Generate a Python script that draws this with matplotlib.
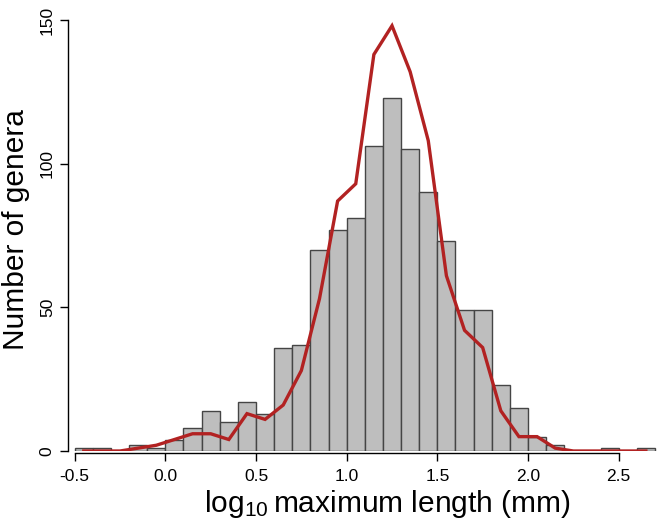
import numpy as np
import matplotlib
matplotlib.use("Agg")
import matplotlib.pyplot as plt

plt.rcParams['font.family'] = ['Liberation Sans', 'DejaVu Sans']
plt.rcParams['mathtext.default'] = 'regular'

# Histogram data (bin width 0.1, from -0.5 to 2.7)
bin_left = [round(-0.5 + 0.1 * i, 2) for i in range(32)]
counts = [1, 1, 0, 2, 1, 4, 8, 14, 10, 17, 13, 36, 37, 70, 77, 81,
          106, 123, 105, 90, 73, 49, 49, 23, 15, 5, 2, 0, 0, 1, 0, 1]

# Red curve (values at bin midpoints)
curve_x = [round(-0.45 + 0.1 * i, 2) for i in range(32)]
curve_y = [0, 0, 0, 1, 2, 4, 6, 6, 4, 13, 11, 16, 28, 53, 87, 93,
           138, 148, 132, 108, 61, 42, 36, 14, 5, 5, 1, 0, 0, 0, 0, 0]

xticks = [-0.5, 0.0, 0.5, 1.0, 1.5, 2.0, 2.5]
xtick_labels = ['-0.5', '0.0', '0.5', '1.0', '1.5', '2.0', '2.5']
yticks = [0, 50, 100, 150]

W, H = 658, 523
fig = plt.figure(figsize=(W / 100, H / 100), dpi=100)
left_px, right_px, bottom_px, top_px = 68, 658, 451, 14
ax = fig.add_axes([left_px / W, (H - bottom_px) / H,
                   (right_px - left_px) / W, (bottom_px - top_px) / H])

ax.bar(bin_left, counts, width=0.1, align='edge', color='#bebebe',
       edgecolor='#454545', linewidth=1.0, zorder=2)
ax.plot(curve_x, curve_y, color='#b22222', linewidth=2.4, zorder=3,
        solid_joinstyle='miter')

ax.set_xlim(-0.537, 2.717)
ax.set_ylim(0, 150 + (20 - top_px) / 2.873)

for s in ['top', 'right']:
    ax.spines[s].set_visible(False)
ax.spines['left'].set_bounds(0, 150)
ax.spines['bottom'].set_bounds(-0.5, 2.5)
ax.spines['left'].set_linewidth(1.0)
ax.spines['bottom'].set_linewidth(1.0)
ax.spines['bottom'].set_position(('outward', 1.5))

ax.set_xticks(xticks)
ax.set_xticklabels(xtick_labels)
ax.set_yticks(yticks)
ax.set_yticklabels([str(v) for v in yticks], rotation=90, va='center')
ax.tick_params(axis='both', direction='out', length=5.5, width=1.0,
               labelsize=12.5, color='black')
ax.tick_params(axis='x', pad=6)
ax.tick_params(axis='y', pad=4)

fig.text(387.5 / W, (H - 512.5) / H, r'log$_{10}\,$maximum length (mm)',
         ha='center', va='baseline', fontsize=21.5)
fig.text(16 / W, (H - 230) / H, 'Number of genera', rotation=90,
         ha='center', va='center', fontsize=21.5)

fig.savefig('out.png', dpi=100)
